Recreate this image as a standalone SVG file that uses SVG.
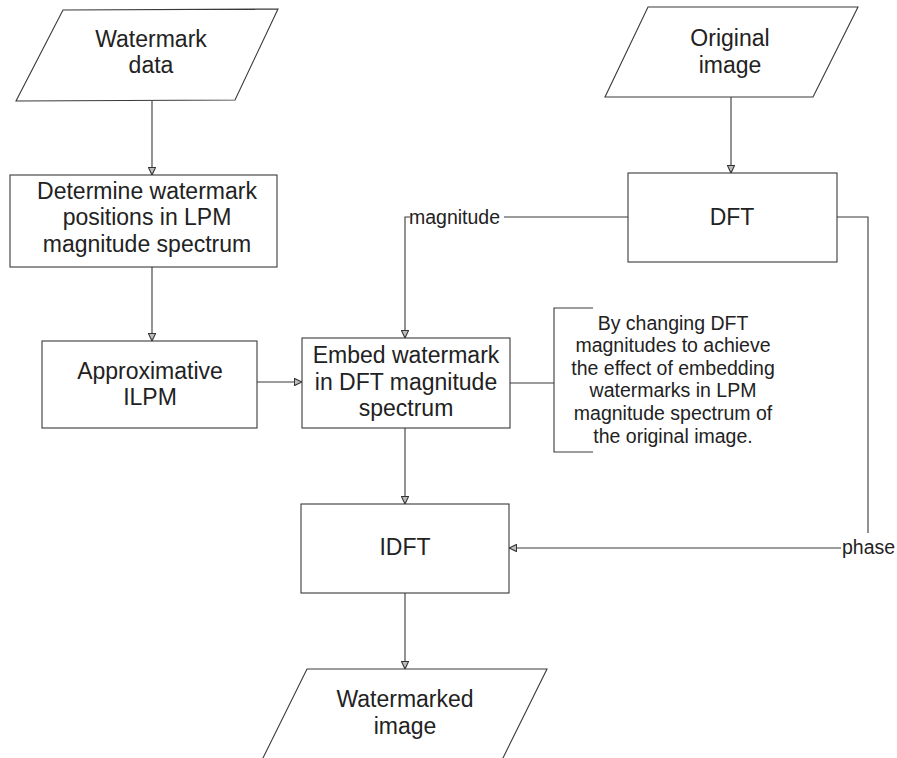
<svg xmlns="http://www.w3.org/2000/svg" width="897" height="758" viewBox="0 0 897 758">
  <style>
    .shape { fill: #ffffff; stroke: #3a3a3a; stroke-width: 1.1; }
    .wire { fill: none; stroke: #3a3a3a; stroke-width: 1.1; }
    .label { font-family: "Liberation Sans", Arial, sans-serif; font-size: 23px; fill: #222222; text-anchor: middle; }
    .small { font-family: "Liberation Sans", Arial, sans-serif; font-size: 19.5px; fill: #222222; }
    .note { font-family: "Liberation Sans", Arial, sans-serif; font-size: 19.5px; fill: #222222; text-anchor: middle; }
  </style>
  <defs>
    <marker id="arrow" viewBox="0 0 10 10" refX="9.5" refY="5" markerWidth="8" markerHeight="8" markerUnits="userSpaceOnUse" orient="auto">
      <path d="M0,0.5 L9.5,5 L0,9.5 Z" fill="#bdbdbd" stroke="#333333" stroke-width="1.4"/>
    </marker>
  </defs>
  <rect width="897" height="758" fill="#ffffff"/>

  <!-- connectors -->
  <g id="connectors">
    <path class="wire" d="M152,101 V175" marker-end="url(#arrow)"/>
    <path class="wire" d="M152,267 V341" marker-end="url(#arrow)"/>
    <path class="wire" d="M257,382 H302" marker-end="url(#arrow)"/>
    <path class="wire" d="M731,97 V173" marker-end="url(#arrow)"/>
    <path class="wire" d="M628,217 H504"/>
    <path class="wire" d="M410,217 H405 V338" marker-end="url(#arrow)"/>
    <text class="small" x="409" y="224">magnitude</text>
    <path class="wire" d="M837,217 H868 V533"/>
    <path class="wire" d="M841,548 H509" marker-end="url(#arrow)"/>
    <text class="small" x="842" y="554">phase</text>
    <path class="wire" d="M510,383 H554"/>
    <path class="wire" d="M405,428 V504" marker-end="url(#arrow)"/>
    <path class="wire" d="M405,593 V669" marker-end="url(#arrow)"/>
  </g>

  <!-- input: watermark data -->
  <g id="watermark-data">
    <polygon class="shape" points="63,10 278,9 235,100 16,101"/>
    <text class="label" x="151" y="47">Watermark</text>
    <text class="label" x="151" y="73">data</text>
  </g>

  <!-- input: original image -->
  <g id="original-image">
    <polygon class="shape" points="648,7 858,7 813,97 605,97"/>
    <text class="label" x="730" y="46">Original</text>
    <text class="label" x="730" y="73">image</text>
  </g>

  <g id="determine-positions">
    <rect class="shape" x="10" y="175" width="267" height="92"/>
    <text class="label" x="147" y="199">Determine watermark</text>
    <text class="label" x="147" y="225">positions in LPM</text>
    <text class="label" x="147" y="252">magnitude spectrum</text>
  </g>

  <g id="approx-ilpm">
    <rect class="shape" x="42" y="341" width="215" height="87"/>
    <text class="label" x="150" y="379">Approximative</text>
    <text class="label" x="150" y="405">ILPM</text>
  </g>

  <g id="dft">
    <rect class="shape" x="628" y="173" width="209" height="89"/>
    <text class="label" x="732" y="225">DFT</text>
  </g>

  <g id="embed">
    <rect class="shape" x="302" y="338" width="208" height="90"/>
    <text class="label" x="406" y="363">Embed watermark</text>
    <text class="label" x="406" y="390">in DFT magnitude</text>
    <text class="label" x="406" y="416">spectrum</text>
  </g>

  <!-- annotation bracket -->
  <g id="annotation">
    <path class="wire" d="M593,308 H554 V452 H593"/>
    <text class="note" x="673" y="330">By changing DFT</text>
    <text class="note" x="673" y="352">magnitudes to achieve</text>
    <text class="note" x="673" y="375">the effect of embedding</text>
    <text class="note" x="673" y="397">watermarks in LPM</text>
    <text class="note" x="673" y="420">magnitude spectrum of</text>
    <text class="note" x="673" y="443">the original image.</text>
  </g>

  <g id="idft">
    <rect class="shape" x="301" y="504" width="208" height="89"/>
    <text class="label" x="405" y="555">IDFT</text>
  </g>

  <!-- output: watermarked image (runs off the lower edge) -->
  <g id="watermarked-image">
    <polygon class="shape" points="307,669 547,669 501,762 261,762"/>
    <text class="label" x="405" y="707">Watermarked</text>
    <text class="label" x="405" y="734">image</text>
  </g>
</svg>
